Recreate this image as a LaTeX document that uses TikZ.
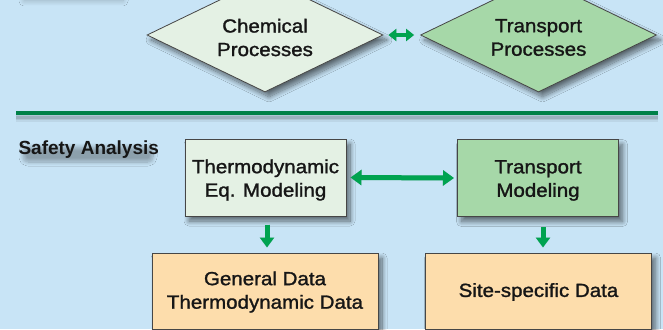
\documentclass[tikz,border=0pt]{standalone}
\usepackage{fontspec}
\setmainfont{Liberation Sans}[FakeStretch=1.08,FakeBold=1.4]
\newfontfamily\headfont{Liberation Sans}
\usetikzlibrary{shapes.geometric,arrows.meta,shadows.blur}

\definecolor{bgblue}{RGB}{200,228,246}
\definecolor{palegreen}{RGB}{228,241,228}
\definecolor{midgreen}{RGB}{166,216,168}
\definecolor{peach}{RGB}{253,221,172}
\definecolor{arrowgreen}{RGB}{0,163,80}
\definecolor{rulegreen}{RGB}{0,128,72}
\definecolor{edgegray}{RGB}{70,70,70}
\definecolor{inkdark}{RGB}{22,22,22}

\begin{document}
\begin{tikzpicture}[x=1pt,y=-1pt,
  every node/.style={font=\fontsize{19}{23.5}\selectfont, text=inkdark, align=center},
  shade/.style={blur shadow={shadow xshift=4pt,shadow yshift=-5pt,
      shadow blur radius=5pt,shadow opacity=55,shadow blur steps=12}},
  proc/.style={diamond, draw=edgegray, line width=0.8pt, minimum width=236pt,
      minimum height=114pt, inner sep=0pt, aspect=2, shade},
  model/.style={rectangle, draw=edgegray, line width=1pt, minimum width=161pt,
      minimum height=77pt, inner sep=0pt, shade},
  data/.style={rectangle, draw=edgegray, line width=1pt, minimum width=226pt,
      minimum height=76pt, inner sep=0pt, shade},
  caption/.style={inner sep=0pt},
  smalltwoway/.style={draw=arrowgreen, line width=4pt,
      {Triangle[width=12pt,length=8pt]}-{Triangle[width=12pt,length=8pt]}},
  twoway/.style={draw=arrowgreen, line width=5pt,
      {Triangle[width=15pt,length=11pt]}-{Triangle[width=15pt,length=11pt]}},
  down/.style={draw=arrowgreen, line width=5pt, -{Triangle[width=14pt,length=10pt]}},
  arrowshade/.style={draw=black, opacity=0.15, xshift=2pt, yshift=-3pt},
]
% canvas
\useasboundingbox (0,0) rectangle (663,329);
\clip (0,0) rectangle (663,329);
\fill[bgblue] (0,0) rectangle (663,329);

% soft shadow of a heading lying above the top edge
\path[blur shadow={shadow xshift=0pt, shadow yshift=-5pt, shadow blur radius=5pt,
      shadow opacity=22, shadow blur steps=12}] (24,-20) rectangle (123,-4);

% processes row
\node[proc, fill=palegreen] (chem) at (265,35) {};
\node[proc, fill=midgreen] (trans) at (538.5,35) {};
\node[caption] (chemtext) at ([yshift=-2.5pt]chem.center) {Chemical\\Processes};
\node[caption] (transtext) at ([yshift=-2.5pt]trans.center) {Transport\\Processes};
\draw[smalltwoway, arrowshade, shorten <=5pt, shorten >=6pt] (chem.east) -- (trans.west);
\draw[smalltwoway, shorten <=5pt, shorten >=6pt] (chem.east) -- (trans.west);

% separator rule with its shadow
\coordinate (ruleL) at (16,113);
\coordinate (ruleR) at (658,113);
\foreach \o/\w in {0.06/9, 0.08/6, 0.10/3}
  \draw[black, opacity=\o, line width=\w pt] ([yshift=-4pt]ruleL) -- ([yshift=-4pt]ruleR);
\draw[rulegreen, line width=3.5pt] (ruleL) -- (ruleR);

% section heading with a soft shadow
\path[blur shadow={shadow xshift=3pt, shadow yshift=-4pt, shadow blur radius=4pt,
      shadow opacity=30, shadow blur steps=10}, rounded corners=5pt] (20,143) rectangle (150,158);
\node[anchor=west, font=\headfont\bfseries\fontsize{19}{23}\selectfont] (safety) at (15,150) {Safety Analysis};

% modeling row
\node[model, fill=palegreen] (thermo) at (265.5,177.5) {};
\node[model, fill=midgreen] (tmodel) at (538,178) {};
\node[caption] (thermotext) at ([yshift=-2.5pt]thermo.center) {Thermodynamic\\Eq. Modeling};
\node[caption] (tmodeltext) at ([yshift=-2.5pt]tmodel.center) {Transport\\Modeling};

% data row
\node[data, fill=peach] (gen) at (265,291) {};
\node[data, fill=peach] (site) at (538.5,291) {};
\node[caption] (gentext) at ([yshift=-1pt]gen.center) {General Data\\Thermodynamic Data};
\node[caption] (sitetext) at ([yshift=-1pt]site.center) {Site-specific Data};

% connectors
\draw[twoway, arrowshade, shorten <=4pt, shorten >=3pt] (thermo.east) -- (tmodel.west);
\draw[twoway, shorten <=4pt, shorten >=3pt] (thermo.east) -- (tmodel.west);
\draw[down, arrowshade, shorten <=8pt, shorten >=5pt] ([xshift=1.5pt]thermo.south) -- ([xshift=1.5pt]thermo.south |- gen.north);
\draw[down, shorten <=8pt, shorten >=5pt] ([xshift=1.5pt]thermo.south) -- ([xshift=1.5pt]thermo.south |- gen.north);
\draw[down, arrowshade, shorten <=10pt, shorten >=5pt] ([xshift=5pt]tmodel.south) -- ([xshift=5pt]tmodel.south |- site.north);
\draw[down, shorten <=10pt, shorten >=5pt] ([xshift=5pt]tmodel.south) -- ([xshift=5pt]tmodel.south |- site.north);
\end{tikzpicture}
\end{document}
